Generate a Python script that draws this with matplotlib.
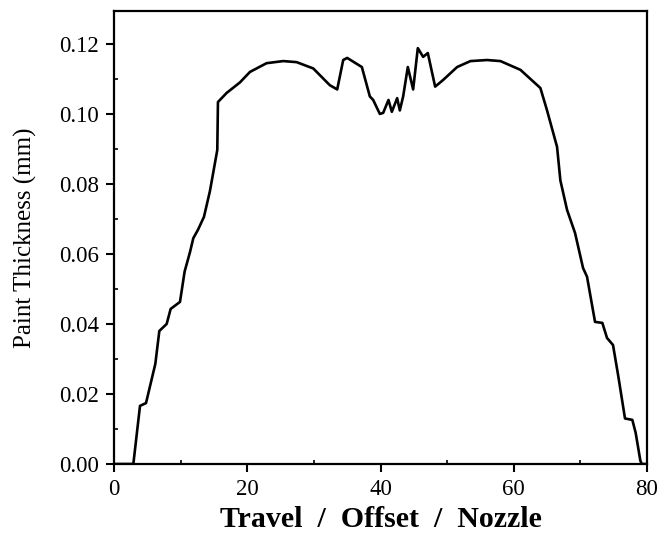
import numpy as np
import matplotlib
matplotlib.use('Agg')
import matplotlib.pyplot as plt
from matplotlib.ticker import MultipleLocator

# Paint thickness profile
travel = [0.0, 2.9, 3.9, 4.8, 6.2, 6.8, 7.9, 8.5, 9.9, 10.6, 11.4, 11.9, 12.6,
          13.5, 14.4, 15.5, 15.6, 16.9, 18.9, 20.4, 22.9, 25.4, 27.4, 29.9,
          32.4, 33.5, 34.4, 35.0, 37.2, 38.4, 38.9, 39.9, 40.4, 41.2, 41.7,
          42.5, 42.9, 43.4, 44.1, 44.9, 45.6, 46.4, 47.1, 48.2, 49.4, 51.5,
          53.5, 56.0, 58.0, 61.0, 64.0, 65.0, 66.5, 67.0, 68.0, 69.2, 70.4,
          71.0, 72.2, 73.3, 74.0, 74.9, 75.7, 76.7, 77.8, 78.3, 79.0, 79.2, 80.0]
thickness = [0.0, 0.0, 0.0166, 0.0174, 0.0286, 0.038, 0.040, 0.0443, 0.0463,
             0.055, 0.0605, 0.0645, 0.0669, 0.0706, 0.078, 0.0897, 0.1034,
             0.106, 0.109, 0.112, 0.1145, 0.1151, 0.1148, 0.113, 0.1082,
             0.107, 0.1154, 0.116, 0.1134, 0.105, 0.104, 0.100, 0.1003, 0.104,
             0.1006, 0.1045, 0.101, 0.105, 0.1134, 0.107, 0.1188, 0.1163,
             0.1174, 0.1078, 0.1097, 0.1134, 0.1151, 0.1154, 0.1151, 0.1126,
             0.1074, 0.101, 0.0906, 0.081, 0.0726, 0.066, 0.056, 0.0535,
             0.0406, 0.0403, 0.036, 0.034, 0.025, 0.013, 0.0126, 0.0089,
             0.001, 0.0, 0.0]

plt.rcParams['font.family'] = ['Liberation Serif', 'DejaVu Serif']

fig = plt.figure(figsize=(6.61, 5.43), dpi=100)
ax = fig.add_axes([0.1725, 0.1455, 0.8063, 0.8342])

ax.plot(travel, thickness, color='black', linewidth=1.9)

ax.set_xlim(0, 80)
ax.set_ylim(0, 0.1294)
ax.xaxis.set_major_locator(MultipleLocator(20))
ax.xaxis.set_minor_locator(MultipleLocator(10))
ax.yaxis.set_major_locator(MultipleLocator(0.02))
ax.yaxis.set_minor_locator(MultipleLocator(0.01))
ax.yaxis.set_major_formatter(matplotlib.ticker.FormatStrFormatter('%.2f'))

ax.tick_params(which='major', direction='out', length=6, width=1.5,
               labelsize=16.5, pad=5, color='black')
ax.tick_params(which='minor', direction='in', length=3, width=1.2)
for sp in ax.spines.values():
    sp.set_linewidth(1.6)

ax.set_xlabel('Travel  /  Offset  /  Nozzle', fontsize=21.5, fontweight='bold',
              labelpad=4)
ax.set_ylabel('Paint Thickness (mm)', fontsize=18, labelpad=16)

fig.savefig('out.png', dpi=100)
